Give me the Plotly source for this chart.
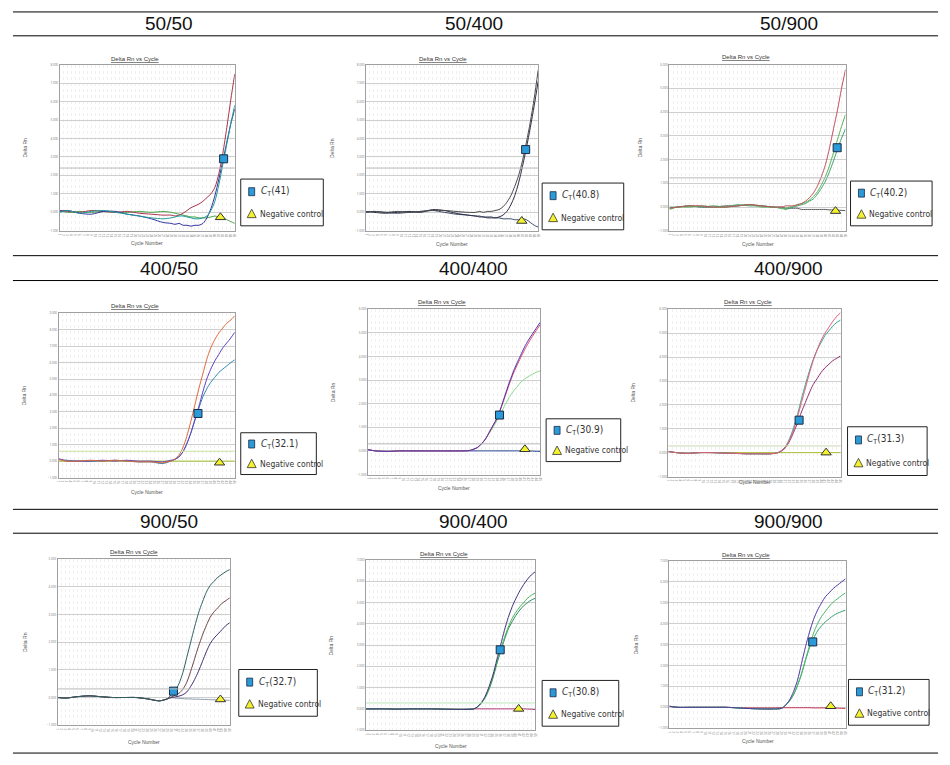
import plotly.graph_objects as go

W, H = 950, 765

# ---------------- data ----------------
CYC = [1, 3, 6, 9, 12, 15, 18, 21, 24, 27, 29, 30, 31, 32, 33, 34, 35, 36, 37, 38, 39, 40, 41, 42, 43, 44, 45]

headers = ["50/50", "50/400", "50/900", "400/50", "400/400", "400/900", "900/50", "900/400", "900/900"]
ct_labels = ["41", "40.8", "40.2", "32.1", "30.9", "31.3", "32.7", "30.8", "31.2"]
ct_cycle = [42.2, 41.8, 42.9, 35.8, 34.6, 34.4, 30.6, 35.9, 36.8]
ct_value = [2.9, 3.4, 2.5, 2.9, 1.52, 1.36, 0.23, 2.78, 3.13]
neg_cycle = [41.4, 40.8, 42.5, 41.2, 41.1, 41.3, 42.6, 40.7, 41.3]
neg_value = [-0.27, -0.47, -0.17, -0.1, 0.07, 0.0, -0.07, 0.0, 0.05]
y_top = [8, 8, 6, 9, 6, 6, 5, 7, 7]
threshold = [2.4, 2.4, 1.23, 0.6, 0.3, 0.28, 0.31, 0.28, None]

p1_red = [0.10, 0.05, 0.00, 0.10, 0.05, 0.00, 0.05, -0.05, -0.10, -0.15, -0.15, -0.20, -0.15, -0.05, 0.10, 0.25, 0.35, 0.45, 0.60, 0.80, 1.00, 1.35, 2.10, 3.20, 4.60, 6.10, 7.50]
p1_teal = [0.00, 0.10, -0.05, 0.05, 0.10, 0.00, -0.10, -0.20, -0.30, -0.35, -0.30, -0.25, -0.20, -0.20, -0.25, -0.30, -0.35, -0.35, -0.30, -0.20, 0.10, 0.60, 1.50, 2.60, 3.70, 4.80, 5.80]
p1_blue = [0.05, 0.10, -0.05, -0.10, 0.05, 0.05, -0.10, -0.20, -0.35, -0.55, -0.60, -0.65, -0.60, -0.70, -0.70, -0.75, -0.70, -0.70, -0.60, -0.30, 0.20, 0.90, 1.80, 2.80, 3.80, 4.80, 5.60]
p1_green = [0.10, 0.00, 0.05, 0.00, 0.05, 0.00, 0.00, 0.05, 0.00, 0.05, 0.00, -0.05, -0.10, -0.15, -0.20, -0.25, -0.25, -0.30, -0.30, -0.30, -0.25, -0.20, -0.25, -0.30, -0.40, -0.50, -0.60]

p2_a = [0.00, 0.05, 0.00, 0.05, 0.00, 0.05, 0.10, 0.10, 0.05, 0.00, 0.00, 0.05, 0.00, 0.05, 0.05, 0.10, 0.15, 0.30, 0.55, 0.90, 1.40, 2.00, 2.80, 3.80, 4.90, 6.20, 7.70]
p2_b = [0.05, 0.00, -0.05, 0.00, 0.05, 0.00, 0.15, 0.10, -0.05, -0.15, -0.20, -0.25, -0.25, -0.30, -0.30, -0.30, -0.25, -0.15, 0.05, 0.40, 0.90, 1.60, 2.50, 3.50, 4.60, 5.80, 7.10]
p2_c = [0.00, 0.05, 0.00, -0.05, 0.00, 0.05, 0.10, 0.00, -0.10, -0.15, -0.20, -0.20, -0.25, -0.25, -0.25, -0.30, -0.30, -0.35, -0.35, -0.35, -0.40, -0.40, -0.35, -0.40, -0.55, -0.70, -0.80]

p3_red = [-0.05, 0.00, 0.05, 0.05, 0.00, 0.00, 0.05, 0.10, 0.05, 0.00, 0.00, 0.05, 0.05, 0.05, 0.10, 0.15, 0.25, 0.40, 0.60, 0.90, 1.30, 1.80, 2.50, 3.30, 4.10, 5.00, 5.80]
p3_g1 = [-0.10, 0.00, 0.00, 0.05, 0.00, 0.00, 0.05, 0.10, 0.00, 0.00, -0.05, -0.05, 0.00, 0.05, 0.10, 0.15, 0.20, 0.30, 0.45, 0.65, 0.95, 1.30, 1.75, 2.30, 2.85, 3.40, 3.90]
p3_g2 = [0.00, 0.00, 0.05, 0.00, 0.05, 0.00, 0.10, 0.05, 0.05, 0.00, -0.05, -0.10, -0.05, 0.00, 0.05, 0.10, 0.15, 0.25, 0.35, 0.55, 0.80, 1.10, 1.50, 1.95, 2.45, 2.90, 3.30]
p3_neg = [-0.05, 0.00, 0.05, 0.00, 0.00, 0.05, 0.05, 0.10, 0.05, 0.00, 0.00, -0.05, -0.05, -0.05, -0.05, -0.10, -0.10, -0.10, -0.10, -0.10, -0.10, -0.10, -0.12, -0.12, -0.13, -0.14, -0.15]

p4_orange = [0.10, 0.00, 0.00, 0.05, 0.00, 0.05, 0.00, -0.05, -0.05, -0.10, 0.00, 0.12, 0.35, 0.80, 1.50, 2.40, 3.40, 4.40, 5.30, 6.20, 6.90, 7.40, 7.80, 8.10, 8.40, 8.60, 8.85]
p4_purple = [0.15, 0.00, 0.00, 0.00, 0.05, 0.00, 0.05, 0.00, 0.00, -0.05, 0.05, 0.10, 0.25, 0.55, 1.05, 1.70, 2.50, 3.30, 4.20, 5.00, 5.60, 6.10, 6.50, 6.90, 7.20, 7.50, 7.85]
p4_teal = [0.10, 0.05, 0.00, 0.00, 0.00, 0.05, 0.00, -0.05, -0.05, -0.15, 0.00, 0.10, 0.25, 0.55, 1.05, 1.70, 2.45, 3.20, 3.90, 4.40, 4.80, 5.10, 5.40, 5.60, 5.80, 6.00, 6.17]
p4_neg = [0.00, 0.00, 0.00, 0.00, 0.00, 0.00, 0.00, 0.00, 0.00, 0.00, 0.00, 0.00, 0.00, 0.00, 0.00, 0.00, 0.00, 0.00, 0.00, 0.00, 0.00, 0.00, 0.00, 0.00, 0.00, 0.00, 0.00]

p5_purple = [0.05, 0.00, -0.02, 0.00, 0.00, 0.00, 0.00, 0.00, 0.00, 0.02, 0.15, 0.30, 0.50, 0.80, 1.10, 1.40, 1.85, 2.35, 2.85, 3.30, 3.70, 4.05, 4.40, 4.70, 4.95, 5.20, 5.45]
p5_red = [0.05, 0.00, -0.02, 0.00, 0.00, 0.00, 0.00, 0.00, 0.00, 0.02, 0.15, 0.30, 0.50, 0.78, 1.08, 1.38, 1.82, 2.30, 2.78, 3.22, 3.60, 3.95, 4.28, 4.58, 4.85, 5.10, 5.35]
p5_green = [0.05, 0.00, -0.02, 0.00, 0.00, 0.00, 0.00, 0.00, 0.00, 0.02, 0.15, 0.30, 0.50, 0.75, 1.00, 1.30, 1.60, 1.95, 2.25, 2.50, 2.70, 2.90, 3.05, 3.15, 3.25, 3.33, 3.40]
p5_neg = [0.05, 0.00, -0.02, 0.00, 0.00, 0.00, 0.00, 0.00, 0.00, 0.00, 0.00, 0.00, 0.00, 0.00, 0.00, 0.00, 0.00, 0.00, 0.00, 0.00, 0.00, 0.00, 0.00, 0.00, -0.01, -0.02, -0.02]

p6_red = [0.05, 0.00, -0.03, 0.00, 0.00, -0.02, -0.03, -0.05, -0.05, -0.05, 0.00, 0.10, 0.25, 0.55, 0.95, 1.50, 2.10, 2.70, 3.30, 3.85, 4.30, 4.70, 5.00, 5.25, 5.50, 5.70, 5.86]
p6_teal = [0.05, 0.00, -0.03, 0.00, 0.00, -0.02, -0.03, -0.05, -0.05, -0.05, 0.00, 0.10, 0.28, 0.60, 1.05, 1.60, 2.25, 2.85, 3.40, 3.90, 4.30, 4.60, 4.90, 5.10, 5.30, 5.45, 5.55]
p6_mag = [0.05, 0.00, -0.03, 0.00, 0.00, -0.02, -0.03, -0.05, -0.05, -0.05, 0.00, 0.08, 0.22, 0.50, 0.85, 1.25, 1.70, 2.10, 2.50, 2.85, 3.10, 3.35, 3.55, 3.70, 3.85, 3.95, 4.05]
p6_neg = [0.05, 0.00, -0.02, 0.00, 0.00, 0.00, 0.00, 0.00, 0.00, 0.00, 0.00, 0.00, 0.00, 0.00, 0.00, 0.00, 0.00, 0.00, 0.00, 0.00, 0.00, 0.00, 0.00, 0.00, 0.00, 0.00, 0.00]

p7_teal = [0.00, -0.02, 0.03, 0.06, 0.03, 0.00, 0.00, 0.00, -0.05, -0.12, -0.05, 0.10, 0.25, 0.50, 0.90, 1.45, 2.00, 2.55, 3.05, 3.45, 3.80, 4.05, 4.20, 4.35, 4.45, 4.55, 4.62]
p7_brown = [0.00, -0.02, 0.03, 0.06, 0.03, 0.00, 0.00, 0.00, -0.05, -0.12, -0.05, 0.02, 0.08, 0.15, 0.30, 0.55, 0.95, 1.40, 1.85, 2.25, 2.60, 2.90, 3.10, 3.25, 3.40, 3.50, 3.60]
p7_purple = [0.00, -0.02, 0.03, 0.06, 0.03, 0.00, 0.00, 0.00, -0.05, -0.12, -0.05, 0.00, 0.02, 0.05, 0.10, 0.20, 0.40, 0.65, 0.95, 1.30, 1.65, 1.95, 2.15, 2.30, 2.45, 2.60, 2.70]
p7_neg = [0.00, -0.02, 0.03, 0.06, 0.03, 0.00, 0.00, 0.00, -0.05, -0.12, -0.05, -0.01, -0.02, -0.03, -0.04, -0.05, -0.05, -0.06, -0.06, -0.07, -0.07, -0.08, -0.08, -0.09, -0.09, -0.10, -0.10]

p8_purple = [0.00, 0.00, 0.00, -0.01, 0.00, 0.00, 0.00, -0.01, -0.02, -0.02, 0.00, 0.10, 0.30, 0.60, 1.05, 1.60, 2.30, 3.00, 3.70, 4.30, 4.80, 5.20, 5.55, 5.85, 6.10, 6.30, 6.45]
p8_g1 = [0.00, 0.00, 0.00, -0.01, 0.00, 0.00, 0.00, -0.01, -0.02, -0.02, 0.00, 0.10, 0.28, 0.55, 0.95, 1.50, 2.15, 2.80, 3.35, 3.85, 4.25, 4.55, 4.80, 5.00, 5.20, 5.35, 5.45]
p8_g2 = [0.00, 0.00, 0.00, -0.01, 0.00, 0.00, 0.00, -0.01, -0.02, -0.02, 0.00, 0.10, 0.27, 0.53, 0.92, 1.45, 2.10, 2.70, 3.25, 3.75, 4.10, 4.40, 4.65, 4.85, 5.00, 5.12, 5.20]
p8_neg = [0.00, 0.00, 0.00, -0.01, 0.00, 0.00, 0.00, -0.01, -0.02, -0.02, 0.00, 0.00, 0.00, 0.00, 0.00, 0.00, 0.00, 0.00, 0.00, 0.00, 0.00, 0.00, 0.00, 0.00, -0.01, -0.02, -0.03]

p9_purple = [0.05, 0.00, 0.00, 0.00, 0.00, 0.00, -0.03, -0.06, -0.08, -0.08, -0.05, 0.10, 0.35, 0.75, 1.30, 2.10, 2.90, 3.60, 4.20, 4.65, 5.00, 5.30, 5.50, 5.70, 5.85, 6.00, 6.15]
p9_g1 = [0.05, 0.00, 0.00, 0.00, 0.00, 0.00, -0.03, -0.06, -0.08, -0.08, -0.05, 0.10, 0.30, 0.60, 1.05, 1.60, 2.30, 2.95, 3.55, 4.00, 4.35, 4.60, 4.85, 5.05, 5.20, 5.35, 5.48]
p9_g2 = [0.05, 0.00, 0.00, 0.00, 0.00, 0.00, -0.03, -0.06, -0.08, -0.08, -0.05, 0.10, 0.30, 0.60, 1.05, 1.60, 2.25, 2.85, 3.30, 3.65, 3.90, 4.10, 4.25, 4.40, 4.50, 4.58, 4.65]
p9_neg = [0.05, 0.00, 0.00, 0.00, 0.00, 0.00, -0.02, -0.03, -0.03, -0.03, -0.02, -0.02, -0.02, -0.02, -0.02, -0.02, -0.02, -0.02, -0.03, -0.03, -0.03, -0.03, -0.04, -0.04, -0.04, -0.05, -0.05]

panel_series = [
    [(p1_green, "#4aa84a"), (p1_red, "#a8344c"), (p1_blue, "#34349c"), (p1_teal, "#1e9a9a")],
    [(p2_c, "#3a4a66"), (p2_b, "#2e2e48"), (p2_a, "#484848")],
    [(p3_neg, "#555555"), (p3_g2, "#3fa070"), (p3_g1, "#55b555"), (p3_red, "#c24e5c")],
    [(p4_neg, "#a8c828"), (p4_teal, "#2f86b0"), (p4_purple, "#6040c0"), (p4_orange, "#e0683a")],
    [(p5_neg, "#3050a0"), (p5_green, "#8ad88a"), (p5_red, "#e04868"), (p5_purple, "#4e32b0")],
    [(p6_neg, "#b0c030"), (p6_mag, "#902e6e"), (p6_teal, "#2fa88e"), (p6_red, "#e45a78")],
    [(p7_neg, "#8a9aaa"), (p7_purple, "#40306e"), (p7_brown, "#6e4444"), (p7_teal, "#2e6060")],
    [(p8_neg, "#c04080"), (p8_g2, "#2a8a60"), (p8_g1, "#48b058"), (p8_purple, "#42307e")],
    [(p9_neg, "#c03050"), (p9_g2, "#30a070"), (p9_g1, "#48b868"), (p9_purple, "#5032a2")],
]

# ---------------- layout geometry (page pixels) ----------------
plot_box = [(57, 233, 63, 230), (365, 538, 63, 230), (670, 847, 63, 230),
            (56, 233, 313, 478), (367, 540, 309, 475), (669, 842, 309, 477),
            (55, 228, 560, 727), (365, 535, 561, 732), (670, 847, 562, 730)]
title_pos = [(133, 57), (442, 57), (747, 55), (133, 306), (441, 302), (749, 302),
             (132, 553), (443, 555), (747, 556)]
legend_box = [(239, 178, 322, 225), (542, 182, 624, 229), (852, 180, 934, 225),
              (239, 433, 315, 475), (546, 419, 621, 462), (849, 427, 929, 476),
              (237, 671, 316, 718), (542, 682, 619, 728), (850, 681, 931, 727)]
ylab_x = [22, 330, 640, 22, 332, 633, 22, 330, 636]
xlab_y = [242, 243, 243, 493, 489, 483, 744, 748, 743]
thr_col = ["#b8b8b8", "#b8b8b8", "#b8b8b8", "#c8e0a0", "#b8b8b8", "#c8d8b0", "#b8b8b8", "#b8e8b8", "#b8b8b8"]
header_x = [167, 473, 790]
header_y = [22, 268, 522]
rule_y = [10, 34, 255, 280, 510, 534, 755]

LEG_FONT = "Liberation Sans Narrow, DejaVu Sans Condensed, Roboto Condensed, Liberation Sans"


def fx(p):
    return p / W


def fy(p):
    return 1 - p / H


fig = go.Figure()
shapes = []
ann = []
layout = {}

for i in range(9):
    k = "" if i == 0 else str(i + 1)
    xa, ya = "x" + k, "y" + k
    x0, x1, y0, y1 = plot_box[i]
    layout["xaxis" + k] = dict(
        domain=[fx(x0), fx(x1)], anchor=ya, range=[1, 45], dtick=1, tick0=1,
        showgrid=True, gridcolor="#f0f0f0", griddash="dot", gridwidth=1,
        showline=True, mirror=True, linecolor="#a0a0a0", linewidth=1,
        zeroline=False, ticks="", tickfont=dict(size=3, color="#777"),
        fixedrange=True,
    )
    layout["yaxis" + k] = dict(
        domain=[fy(y1), fy(y0)], anchor=xa, range=[-1, y_top[i]], dtick=1,
        showgrid=True, gridcolor="#cfcfcf", gridwidth=1,
        showline=True, mirror=True, linecolor="#a0a0a0", linewidth=1,
        zeroline=False, ticks="", tickfont=dict(size=3, color="#777"),
        tickformat=".3f", fixedrange=True,
    )
    if threshold[i] is not None:
        shapes.append(dict(type="line", xref=xa + " domain", yref=ya, x0=0, x1=1,
                           y0=threshold[i], y1=threshold[i],
                           line=dict(color=thr_col[i], width=1)))
    for vals, col in panel_series[i]:
        fig.add_trace(go.Scatter(x=CYC, y=vals, xaxis=xa, yaxis=ya, mode="lines",
                                 line=dict(color=col, width=1, shape="spline", smoothing=0.8),
                                 hoverinfo="skip"))
    fig.add_trace(go.Scatter(x=[ct_cycle[i]], y=[ct_value[i]], xaxis=xa, yaxis=ya, mode="markers",
                             marker=dict(symbol="square", size=8, color="#2a9ad8",
                                         line=dict(color="#1a2a44", width=1)),
                             hoverinfo="skip"))
    fig.add_trace(go.Scatter(x=[neg_cycle[i]], y=[neg_value[i]], xaxis=xa, yaxis=ya, mode="markers",
                             marker=dict(symbol="triangle-up", size=9, color="#f4f22c",
                                         line=dict(color="#333333", width=1)),
                             hoverinfo="skip"))

    # panel title and axis titles
    tx, ty = title_pos[i]
    ann.append(dict(x=fx(tx), y=fy(ty), xref="paper", yref="paper", showarrow=False,
                    xanchor="center", yanchor="middle",
                    text="<u>Delta Rn vs Cycle</u>",
                    font=dict(size=6, color="#333333", family="Liberation Sans")))
    ann.append(dict(x=fx(ylab_x[i]), y=fy((y0 + y1) / 2), xref="paper", yref="paper",
                    xanchor="center", yanchor="middle",
                    showarrow=False, text="Delta Rn", textangle=-90,
                    font=dict(size=5, color="#555555", family="Liberation Sans")))
    ann.append(dict(x=fx((x0 + x1) / 2), y=fy(xlab_y[i]), xref="paper", yref="paper",
                    xanchor="center", yanchor="middle",
                    showarrow=False, text="Cycle Number",
                    font=dict(size=5, color="#555555", family="Liberation Sans")))

    # legend box
    L, T, R, B = legend_box[i]
    shapes.append(dict(type="rect", xref="paper", yref="paper", x0=fx(L), x1=fx(R),
                       y0=fy(B), y1=fy(T), line=dict(color="#222222", width=1),
                       fillcolor="white", layer="above"))
    hgt = B - T
    sy = T + 0.27 * hgt
    ty2 = T + 0.74 * hgt
    shapes.append(dict(type="rect", xref="paper", yref="paper",
                       x0=fx(L + 8), x1=fx(L + 14), y0=fy(sy + 4), y1=fy(sy - 4),
                       fillcolor="#2a9ad8", line=dict(color="#1a2a44", width=0.8), layer="above"))
    shapes.append(dict(type="path", xref="paper", yref="paper",
                       path="M {} {} L {} {} L {} {} Z".format(fx(L + 6.5), fy(ty2 + 4), fx(L + 15.5),
                                                              fy(ty2 + 4), fx(L + 11), fy(ty2 - 4.5)),
                       fillcolor="#f4f22c", line=dict(color="#333333", width=0.8), layer="above"))
    ann.append(dict(x=fx(L + 18), y=fy(sy), xref="paper", yref="paper", showarrow=False,
                    xanchor="left", yanchor="middle",
                    text="<i>C</i><sub>T</sub>(" + ct_labels[i] + ")",
                    font=dict(size=10, color="#333333", family=LEG_FONT)))
    ann.append(dict(x=fx(L + 17), y=fy(ty2), xref="paper", yref="paper", showarrow=False,
                    xanchor="left", yanchor="middle", text="Negative control",
                    font=dict(size=8.5, color="#333333", family=LEG_FONT)))

# table rules
for ry in rule_y:
    shapes.append(dict(type="line", xref="paper", yref="paper", x0=fx(10), x1=fx(940),
                       y0=fy(ry), y1=fy(ry), line=dict(color="#000000", width=1)))

# headers
for r in range(3):
    for c in range(3):
        ann.append(dict(x=fx(header_x[c]), y=fy(header_y[r]), xref="paper", yref="paper",
                        xanchor="center", yanchor="middle",
                        showarrow=False, text=headers[r * 3 + c],
                        font=dict(size=19, color="#111111", family="Liberation Sans")))

fig.update_layout(width=W, height=H, margin=dict(l=0, r=0, t=0, b=0),
                  paper_bgcolor="white", plot_bgcolor="white", showlegend=False,
                  shapes=shapes, annotations=ann, **layout)

fig.write_html("out.html", config={"displayModeBar": False},
               post_script="document.body.style.margin='0';document.body.style.overflow='hidden';")
